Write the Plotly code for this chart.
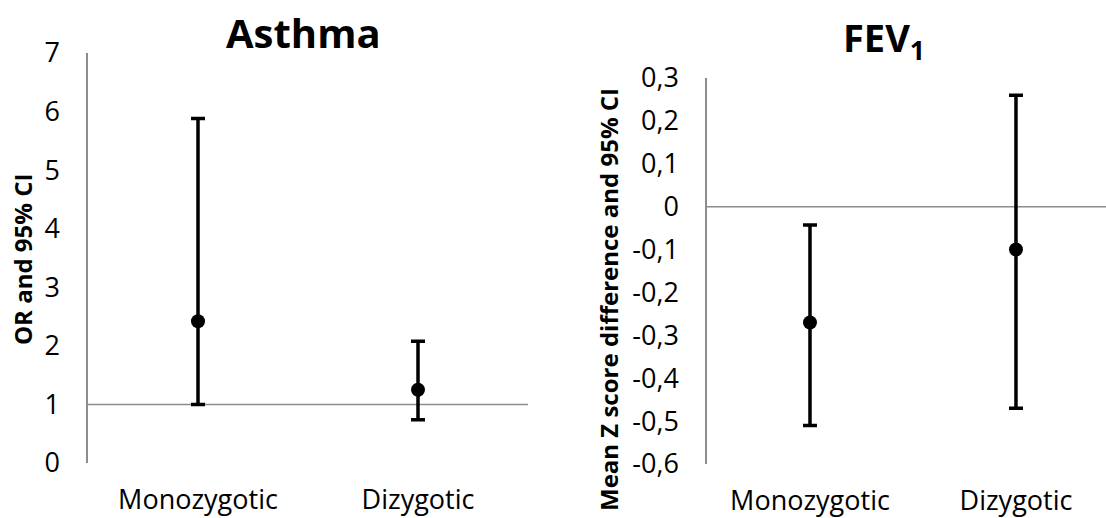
import plotly.graph_objects as go

# ---- data ----
categories = ["Monozygotic", "Dizygotic"]

asthma_or = [2.42, 1.25]
asthma_lo = [1.00, 0.74]
asthma_hi = [5.88, 2.08]

fev_mean = [-0.27, -0.10]
fev_lo = [-0.51, -0.47]
fev_hi = [-0.043, 0.26]

asthma_ticks = [0, 1, 2, 3, 4, 5, 6, 7]
asthma_ticktext = ["0", "1", "2", "3", "4", "5", "6", "7"]
fev_ticks = [0.3, 0.2, 0.1, 0.0, -0.1, -0.2, -0.3, -0.4, -0.5, -0.6]
fev_ticktext = ["0,3", "0,2", "0,1", "0", "-0,1", "-0,2", "-0,3", "-0,4", "-0,5", "-0,6"]

W, H = 1106, 518
FONT = "Open Sans"
AXIS_GRAY = "#8c8c8c"

def px_x(p):
    return p / W

def px_y(p):
    return 1 - p / H

fig = go.Figure()

err_style = dict(type="data", symmetric=False, color="black", thickness=3.5, width=7)
marker_style = dict(color="black", size=14, symbol="circle")

fig.add_trace(go.Scatter(
    x=categories, y=asthma_or, mode="markers", marker=marker_style,
    error_y=dict(array=[h - v for h, v in zip(asthma_hi, asthma_or)],
                 arrayminus=[v - l for v, l in zip(asthma_or, asthma_lo)], **err_style),
    xaxis="x", yaxis="y", showlegend=False, hoverinfo="skip"))

fig.add_trace(go.Scatter(
    x=categories, y=fev_mean, mode="markers", marker=marker_style,
    error_y=dict(array=[h - v for h, v in zip(fev_hi, fev_mean)],
                 arrayminus=[v - l for v, l in zip(fev_mean, fev_lo)], **err_style),
    xaxis="x2", yaxis="y2", showlegend=False, hoverinfo="skip"))

tickfont = dict(family=FONT, size=27, color="black")

fig.update_layout(
    width=W, height=H, autosize=False,
    margin=dict(l=0, r=0, t=0, b=0, pad=0, autoexpand=False),
    paper_bgcolor="white", plot_bgcolor="white",
    xaxis=dict(domain=[px_x(88), px_x(528)], anchor="y", type="category",
               range=[-0.5, 1.5], showline=False, showgrid=False, zeroline=False,
               ticks="", tickfont=tickfont, ticklabelstandoff=18, automargin=False),
    yaxis=dict(domain=[px_y(463), px_y(53)], anchor="x", range=[0, 7],
               tickvals=asthma_ticks, ticktext=asthma_ticktext,
               showline=True, linecolor=AXIS_GRAY, linewidth=1.5,
               showgrid=False, zeroline=False, ticks="", automargin=False,
               tickfont=tickfont, ticklabelstandoff=21),
    xaxis2=dict(domain=[px_x(707), 1.0], anchor="y2", type="category",
                range=[-0.5, 1.437], showline=False, showgrid=False, zeroline=False,
                ticks="", tickfont=tickfont, ticklabelstandoff=18, automargin=False),
    yaxis2=dict(domain=[px_y(464), px_y(78)], anchor="x2", range=[-0.6, 0.3],
                tickvals=fev_ticks, ticktext=fev_ticktext,
                showline=True, linecolor=AXIS_GRAY, linewidth=1.5,
                showgrid=False, zeroline=False, ticks="", automargin=False,
                tickfont=tickfont, ticklabelstandoff=21),
    shapes=[
        dict(type="line", xref="x domain", yref="y", x0=0, x1=1, y0=1, y1=1,
             line=dict(color=AXIS_GRAY, width=1.5), layer="below"),
        dict(type="line", xref="x2 domain", yref="y2", x0=0, x1=1, y0=0, y1=0,
             line=dict(color=AXIS_GRAY, width=1.5), layer="below"),
    ],
    annotations=[
        dict(text="<b>Asthma</b>", xref="paper", yref="paper",
             x=px_x(303), y=px_y(33), xanchor="center", yanchor="middle",
             showarrow=False, font=dict(family=FONT, size=40, color="black")),
        dict(text="<b>FEV<sub>1</sub></b>", xref="paper", yref="paper",
             x=px_x(884), y=px_y(40), xanchor="center", yanchor="middle",
             showarrow=False, font=dict(family=FONT, size=38, color="black")),
        dict(text="<b>OR and 95% CI</b>", xref="paper", yref="paper",
             x=px_x(22), y=px_y(260), xanchor="center", yanchor="middle",
             textangle=-90, showarrow=False,
             font=dict(family=FONT, size=24, color="black")),
        dict(text="<b>Mean Z score difference and 95% CI</b>", xref="paper", yref="paper",
             x=px_x(608), y=px_y(300), xanchor="center", yanchor="middle",
             textangle=-90, showarrow=False,
             font=dict(family=FONT, size=24, color="black")),
    ],
)

fig.write_html("out.html")
